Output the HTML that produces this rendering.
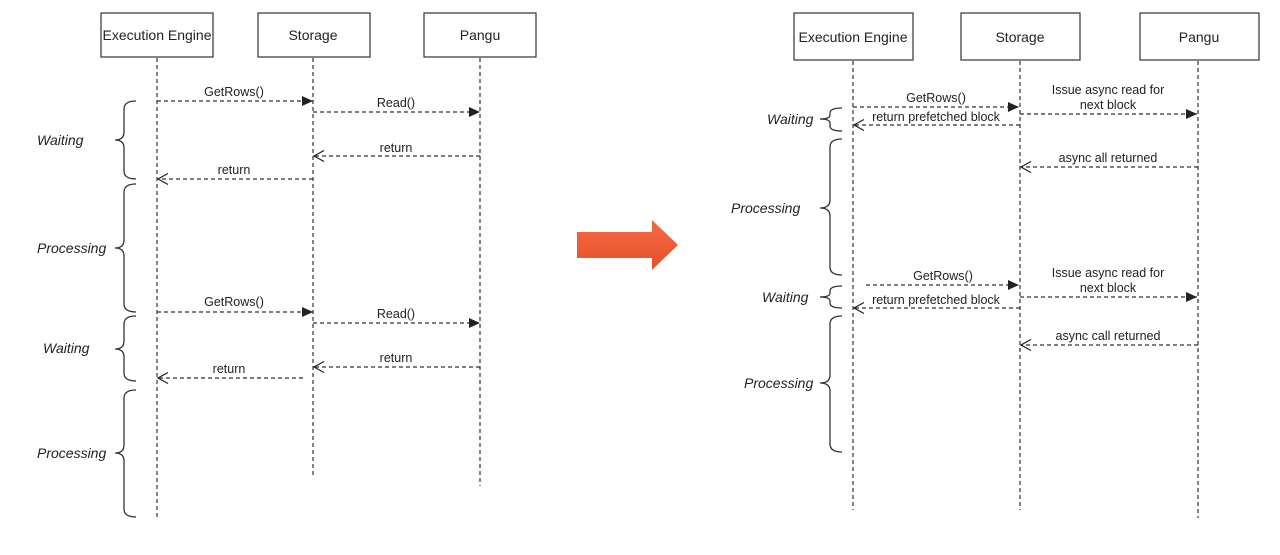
<!DOCTYPE html>
<html><head><meta charset="utf-8"><style>
html,body{margin:0;padding:0;background:#fff;}
svg{display:block;}
text{font-family:"Liberation Sans",Helvetica,Arial,sans-serif;fill:#222;}
.lbl{font-size:12.5px;text-anchor:middle;}
.act{font-size:14px;text-anchor:middle;}
.it{font-size:14px;font-style:italic;}
.life{stroke:#333;stroke-width:1.2;stroke-dasharray:4,3;fill:none;}
.msg{stroke:#333;stroke-width:1.2;stroke-dasharray:4,3;fill:none;}
.br{stroke:#333;stroke-width:1.3;fill:none;}
.box{fill:#fff;stroke:#333;stroke-width:1.2;}
.bg{fill:#fff;}
</style></head><body>
<svg width="1280" height="555" viewBox="0 0 1280 555" xmlns="http://www.w3.org/2000/svg">
<defs>
<marker id="f" markerWidth="12" markerHeight="10" refX="11" refY="5" orient="auto" markerUnits="userSpaceOnUse"><path d="M0,0 L11,5 L0,10 Z" fill="#222"/></marker>
<marker id="o" markerWidth="13" markerHeight="12" refX="11" refY="6" orient="auto" markerUnits="userSpaceOnUse"><path d="M1,0.5 L11,6 L1,11.5" fill="none" stroke="#222" stroke-width="1.2"/></marker>
<linearGradient id="og" x1="0" y1="0" x2="0" y2="1"><stop offset="0" stop-color="#f36a43"/><stop offset="1" stop-color="#e8502a"/></linearGradient>
</defs>

<!-- LEFT -->
<line class="life" x1="157" y1="58" x2="157" y2="518"/>
<line class="life" x1="313" y1="58" x2="313" y2="478"/>
<line class="life" x1="480" y1="58" x2="480" y2="486"/>
<rect class="box" x="101" y="13" width="112" height="44"/>
<rect class="box" x="258" y="13" width="112" height="44"/>
<rect class="box" x="424" y="13" width="112" height="44"/>
<text class="act" x="157" y="40">Execution Engine</text>
<text class="act" x="313" y="40">Storage</text>
<text class="act" x="480" y="40">Pangu</text>

<line class="msg" x1="157" y1="101" x2="313" y2="101" marker-end="url(#f)"/>
<text class="lbl" x="234" y="96">GetRows()</text>
<line class="msg" x1="313" y1="112" x2="480" y2="112" marker-end="url(#f)"/>
<text class="lbl" x="396" y="107">Read()</text>
<line class="msg" x1="480" y1="156" x2="314" y2="156" marker-end="url(#o)"/>
<text class="lbl" x="396" y="152">return</text>
<line class="msg" x1="313" y1="179" x2="158" y2="179" marker-end="url(#o)"/>
<text class="lbl" x="234" y="174">return</text>

<line class="msg" x1="157" y1="312" x2="313" y2="312" marker-end="url(#f)"/>
<text class="lbl" x="234" y="306">GetRows()</text>
<line class="msg" x1="313" y1="323" x2="480" y2="323" marker-end="url(#f)"/>
<text class="lbl" x="396" y="318">Read()</text>
<line class="msg" x1="480" y1="367" x2="314" y2="367" marker-end="url(#o)"/>
<text class="lbl" x="396" y="362">return</text>
<line class="msg" x1="303" y1="378" x2="158" y2="378" marker-end="url(#o)"/>
<text class="lbl" x="229" y="373">return</text>

<path class="br" d="M136,101 Q124,101 124,109 L124,132 Q124,140 115,140 Q124,140 124,148 L124,171 Q124,179 136,179"/>
<path class="br" d="M136,184 Q124,184 124,192 L124,240 Q124,248 115,248 Q124,248 124,256 L124,304 Q124,312 136,312"/>
<path class="br" d="M136,316 Q124,316 124,324 L124,341 Q124,349 115,349 Q124,349 124,357 L124,373 Q124,381 136,381"/>
<path class="br" d="M136,390 Q124,390 124,398 L124,445 Q124,453 115,453 Q124,453 124,461 L124,509 Q124,517 136,517"/>
<text class="it" x="37" y="145">Waiting</text>
<text class="it" x="37" y="253">Processing</text>
<text class="it" x="43" y="353">Waiting</text>
<text class="it" x="37" y="458">Processing</text>

<!-- ARROW -->
<path d="M577,232 L652,232 L652,220 L678,245 L652,270 L652,258 L577,258 Z" fill="url(#og)"/>

<!-- RIGHT -->
<line class="life" x1="853" y1="61" x2="853" y2="510"/>
<line class="life" x1="1020" y1="61" x2="1020" y2="510"/>
<line class="life" x1="1198" y1="61" x2="1198" y2="518"/>
<rect class="box" x="794" y="13" width="119" height="47"/>
<rect class="box" x="961" y="13" width="119" height="47"/>
<rect class="box" x="1140" y="13" width="119" height="47"/>
<text class="act" x="853" y="42">Execution Engine</text>
<text class="act" x="1020" y="42">Storage</text>
<text class="act" x="1199" y="42">Pangu</text>

<line class="msg" x1="853" y1="107" x2="1019" y2="107" marker-end="url(#f)"/>
<text class="lbl" x="936" y="102">GetRows()</text>
<line class="msg" x1="1020" y1="114" x2="1197" y2="114" marker-end="url(#f)"/>
<text class="lbl" x="1108" y="94">Issue async read for</text>
<text class="lbl" x="1108" y="109">next block</text>
<line class="msg" x1="1020" y1="125" x2="854" y2="125" marker-end="url(#o)"/>
<rect class="bg" x="866" y="110" width="140" height="13"/>
<text class="lbl" x="936" y="121">return prefetched block</text>
<line class="msg" x1="1198" y1="167" x2="1021" y2="167" marker-end="url(#o)"/>
<text class="lbl" x="1108" y="162">async all returned</text>

<line class="msg" x1="866" y1="285" x2="1019" y2="285" marker-end="url(#f)"/>
<text class="lbl" x="943" y="280">GetRows()</text>
<line class="msg" x1="1020" y1="297" x2="1197" y2="297" marker-end="url(#f)"/>
<text class="lbl" x="1108" y="277">Issue async read for</text>
<text class="lbl" x="1108" y="292">next block</text>
<line class="msg" x1="1020" y1="308" x2="854" y2="308" marker-end="url(#o)"/>
<rect class="bg" x="866" y="293" width="140" height="13"/>
<text class="lbl" x="936" y="304">return prefetched block</text>
<line class="msg" x1="1198" y1="345" x2="1021" y2="345" marker-end="url(#o)"/>
<text class="lbl" x="1108" y="340">async call returned</text>

<path class="br" d="M842,108 Q830,108 830,113 L830,115 Q830,119 820,119 Q830,119 830,123 L830,126 Q830,131 842,131"/>
<path class="br" d="M842,139 Q830,139 830,147 L830,200 Q830,208 820,208 Q830,208 830,216 L830,267 Q830,275 842,275"/>
<path class="br" d="M842,286 Q830,286 830,291 L830,293 Q830,297 820,297 Q830,297 830,301 L830,303 Q830,308 842,308"/>
<path class="br" d="M842,316 Q830,316 830,324 L830,375 Q830,383 820,383 Q830,383 830,391 L830,444 Q830,452 842,452"/>
<text class="it" x="767" y="124">Waiting</text>
<text class="it" x="731" y="213">Processing</text>
<text class="it" x="762" y="302">Waiting</text>
<text class="it" x="744" y="388">Processing</text>
</svg>
</body></html>
